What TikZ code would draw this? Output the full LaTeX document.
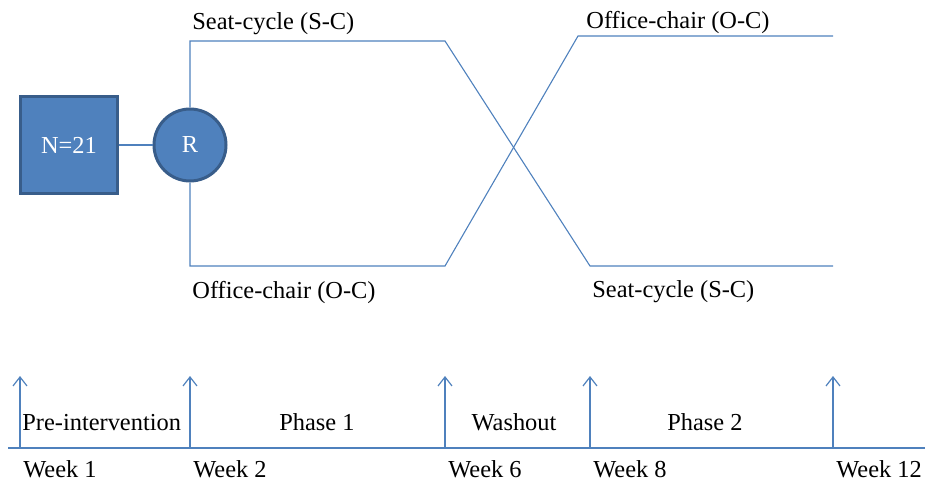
\documentclass[tikz,border=0pt]{standalone}
\usepackage{fontspec}
\setmainfont{Liberation Serif}
\usetikzlibrary{arrows.meta}
\definecolor{myblue}{RGB}{79,129,189}
\definecolor{mydark}{RGB}{56,93,138}
\definecolor{myline}{RGB}{79,129,189}
\begin{document}
\begin{tikzpicture}[%
                x=0.5pt, y=-0.5pt,
                font=\fontsize{12.2}{14}\selectfont,
                mybox/.style={shape=rectangle,fill=myblue,draw=mydark,line width=1.5pt,minimum size=48.5pt,text=white,inner sep=0pt},
                mycirc/.style={shape=circle,fill=myblue,draw=mydark,line width=1.5pt,minimum size=36pt,text=white,inner sep=0pt},
                mytext/.style={inner sep=0pt,anchor=base west},
                myline/.style={draw=myline,line width=0.55pt},
                myarrow/.style={draw=myline,line width=0.6pt,-{Straight Barb[length=4.5pt,width=7pt]}}
        ]
            \useasboundingbox (0,0) rectangle (925,481);
            \node [mybox] (n) at (69,145) {N=21};
            \node [mycirc] (r) at (190,145) {R};
            \draw [myline] (n) -- (r);
            \coordinate (sa) at (445,41);
            \coordinate (sb) at (590,266);
            \coordinate (se) at (833,266);
            \coordinate (oa) at (445,266);
            \coordinate (ob) at (578,36);
            \coordinate (oe) at (833,36);
            \draw [myline] (r.north) |- (sa) -- (sb) -- (se);
            \draw [myline] (r.south) |- (oa) -- (ob) -- (oe);
            \node [mytext] (scl) at (192,30) {Seat-cycle (S-C)};
            \node [mytext] (ocl) at (192,298) {Office-chair (O-C)};
            \node [mytext] (ocr) at (586,29) {Office-chair (O-C)};
            \node [mytext] (scr) at (592,297) {Seat-cycle (S-C)};
            \coordinate (t0) at (8,448);
            \coordinate (t1) at (925,448);
            \draw [myline, line width=0.6pt] (t0) -- (t1);
            \foreach \x/\w [count=\i] in {20/1, 190/2, 445/6, 590/8, 833/12} {
                \coordinate (w\i) at (\x,448);
                \coordinate (h\i) at (\x,376);
                \draw [myarrow] (w\i) -- (h\i);
                \node [mytext] (wl\i) at (\x+3,477) {Week \w};
            }
            \node [mytext] (pre) at (22,430) {Pre-intervention};
            \node [mytext, anchor=base] (p1) at (317,430) {Phase 1};
            \node [mytext, anchor=base] (wo) at (514,430) {Washout};
            \node [mytext, anchor=base] (p2) at (705,430) {Phase 2};
        \end{tikzpicture}
\end{document}
